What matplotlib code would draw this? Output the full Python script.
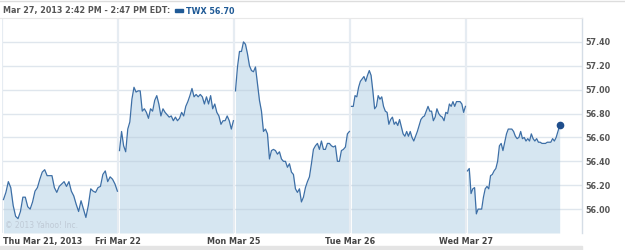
import numpy as np
import matplotlib
matplotlib.use('Agg')
import matplotlib.pyplot as plt

# TWX 5-day intraday prices (one list per session)
day_labels = ['Thu Mar 21, 2013', 'Fri Mar 22', 'Mon Mar 25', 'Tue Mar 26', 'Wed Mar 27']
session_end = ['16:00', '16:00', '16:00', '16:00', '14:47']

thu = [56.08, 56.14, 56.23, 56.18, 56.03, 55.94, 55.92, 55.98, 56.10, 56.10, 56.02, 56.00,
       56.06, 56.15, 56.18, 56.25, 56.31, 56.33, 56.28, 56.28, 56.28, 56.18, 56.14, 56.19,
       56.21, 56.23, 56.19, 56.23, 56.15, 56.11, 56.04, 55.98, 56.07, 56.00, 55.93, 56.03,
       56.17, 56.15, 56.14, 56.18, 56.19, 56.29, 56.32, 56.23, 56.27, 56.25, 56.21, 56.15]
fri = [56.49, 56.65, 56.53, 56.48, 56.67, 56.73, 56.92, 57.02, 56.98, 56.99, 56.99, 56.82,
       56.84, 56.81, 56.76, 56.84, 56.82, 56.91, 56.95, 56.88, 56.78, 56.84, 56.81, 56.79,
       56.77, 56.78, 56.74, 56.77, 56.74, 56.76, 56.81, 56.78, 56.86, 56.90, 56.95, 57.01,
       56.94, 56.96, 56.94, 56.96, 56.94, 56.88, 56.94, 56.88, 56.95, 56.84, 56.88, 56.81,
       56.78, 56.71, 56.74, 56.74, 56.78, 56.74, 56.67, 56.74]
mon = [56.99, 57.19, 57.32, 57.32, 57.40, 57.38, 57.30, 57.20, 57.16, 57.15, 57.19, 57.05,
       56.91, 56.82, 56.65, 56.67, 56.63, 56.42, 56.49, 56.50, 56.49, 56.46, 56.48, 56.42,
       56.40, 56.40, 56.35, 56.38, 56.31, 56.29, 56.17, 56.14, 56.17, 56.06, 56.10, 56.18,
       56.23, 56.27, 56.38, 56.50, 56.53, 56.55, 56.50, 56.57, 56.50, 56.50, 56.55, 56.55,
       56.53, 56.52, 56.53, 56.40, 56.40, 56.49, 56.50, 56.52, 56.63, 56.65]
tue = [56.86, 56.86, 56.95, 56.94, 57.02, 57.07, 57.09, 57.11, 57.07, 57.12, 57.16, 57.12,
       56.99, 56.84, 56.86, 56.95, 56.92, 56.94, 56.86, 56.82, 56.81, 56.71, 56.75, 56.77,
       56.71, 56.73, 56.70, 56.75, 56.69, 56.63, 56.61, 56.65, 56.61, 56.65, 56.60, 56.57,
       56.61, 56.65, 56.70, 56.75, 56.77, 56.78, 56.82, 56.86, 56.82, 56.82, 56.74, 56.77,
       56.84, 56.80, 56.78, 56.77, 56.74, 56.81, 56.80, 56.88, 56.86, 56.90, 56.86, 56.90,
       56.90, 56.90, 56.88, 56.81, 56.86]
wed = [56.32, 56.34, 56.13, 56.17, 56.18, 55.96, 56.00, 56.00, 56.00, 56.10, 56.17, 56.19,
       56.17, 56.28, 56.29, 56.32, 56.34, 56.40, 56.53, 56.55, 56.49, 56.56, 56.63, 56.67,
       56.67, 56.67, 56.65, 56.61, 56.59, 56.60, 56.65, 56.59, 56.60, 56.57, 56.59, 56.57,
       56.63, 56.59, 56.57, 56.59, 56.56, 56.56, 56.55, 56.55, 56.55, 56.56, 56.56, 56.56,
       56.59, 56.57, 56.60, 56.65, 56.70]
sessions = [thu, fri, mon, tue, wed]

y_ticks = [56.00, 56.20, 56.40, 56.60, 56.80, 57.00, 57.20, 57.40]
header = 'Mar 27, 2013 2:42 PM - 2:47 PM EDT:'
ticker = 'TWX 56.70'

# colours
line_col = '#3d6fa6'
fill_col = '#d6e6f1'
text_col = '#555555'
blue_txt = '#1f5a96'

def to_minutes(hhmm):
  h, m = hhmm.split(':')
  return int(h) * 60 + int(m)

open_min = 9 * 60 + 30
session_len = 390.0
fs = 5.8

fig = plt.figure(figsize=(6.25, 2.51), dpi=100)
ax = fig.add_axes([2 / 625, 17 / 251, 580 / 625, 215 / 251])
ymin, ymax = 55.80, 57.60

for i, prices in enumerate(sessions):
  start = 5 / session_len
  end = (to_minutes(session_end[i]) - 2 - open_min) / session_len
  x = i + np.linspace(start, end, len(prices))
  ax.fill_between(x, prices, ymin, color=fill_col, lw=0, zorder=1)
  ax.plot(x, prices, color=line_col, lw=0.9, zorder=4)
  if i == len(sessions) - 1:
    ax.plot(x[-1], prices[-1], 'o', color='#1f4e8c', ms=4.5, zorder=5)

# grid
for t in y_ticks:
  ax.axhline(t, color='#b8c8d8', alpha=0.45, lw=1.0, zorder=2)
for d in range(len(sessions)):
  ax.axvline(d, color='#e6ecf2', lw=1.6, zorder=3)

ax.set_xlim(0, 5)
ax.set_ylim(ymin, ymax)
ax.set_xticks([])
ax.set_yticks([])
for side in ['top', 'left', 'bottom']:
  ax.spines[side].set_visible(False)
ax.spines['right'].set_color('#d5dde6')
ax.spines['right'].set_linewidth(1.0)

# right axis labels
for t in y_ticks:
  ax.text(5.03, t, '%.2f' % t, ha='left', va='center', fontsize=fs,
          fontweight='bold', color=text_col, clip_on=False)

# day labels
for d, lab in enumerate(day_labels):
  ha = 'left' if d == 0 else 'center'
  xpos = 0.005 if d == 0 else d
  ax.annotate(lab, (xpos, 0), xycoords=('data', 'axes fraction'),
              xytext=(0, -5.5), textcoords='offset points', ha=ha, va='center',
              fontsize=fs, fontweight='bold', color='#444444', annotation_clip=False)

ax.text(0.03, 55.83, '\u00a9 2013 Yahoo! Inc.', fontsize=5.5, color='#bfcad6',
        ha='left', va='bottom', zorder=3)

# header: date range, then legend swatch + ticker right after it
head = fig.text(3 / 625, 1 - 11 / 251, header, fontsize=fs, fontweight='bold',
                color=text_col, ha='left', va='center')
fig.canvas.draw()
x_end = head.get_window_extent().x1 / 625
fig.patches.append(plt.Rectangle((x_end + 5 / 625, 1 - 12.5 / 251), 8 / 625, 3 / 251,
                                 transform=fig.transFigure, color=blue_txt))
fig.text(x_end + 16 / 625, 1 - 11 / 251, ticker, fontsize=fs, fontweight='bold',
         color=blue_txt, ha='left', va='center')
fig.add_artist(plt.Line2D([0, 1], [1 - 1.5 / 251] * 2, color='#dddddd', lw=1.0))
fig.add_artist(plt.Line2D([0, 582 / 625], [1 - 18.5 / 251] * 2, color='#e8e8e8', lw=0.8))

# scroll bar strip at the bottom
fig.patches.append(plt.Rectangle((0, 0), 582 / 625, 4 / 251,
                                 transform=fig.transFigure, color='#e4e4e4'))

fig.savefig('out.png', dpi=100)
